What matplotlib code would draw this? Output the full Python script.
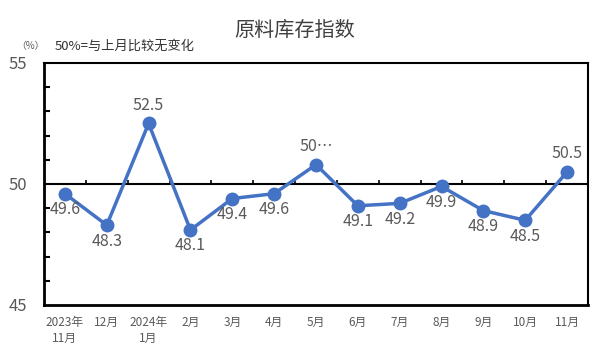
import matplotlib
matplotlib.use("Agg")
import matplotlib.pyplot as plt
import numpy as np

plt.rcParams['font.family'] = ['Noto Sans CJK SC', 'DejaVu Sans']

categories = ["2023年\n11月", "12月", "2024年\n1月", "2月", "3月", "4月", "5月",
              "6月", "7月", "8月", "9月", "10月", "11月"]
values = [49.6, 48.3, 52.5, 48.1, 49.4, 49.6, 50.8, 49.1, 49.2, 49.9, 48.9, 48.5, 50.5]
labels = ["49.6", "48.3", "52.5", "48.1", "49.4", "49.6", "50…", "49.1", "49.2",
          "49.9", "48.9", "48.5", "50.5"]
label_pos = ["below", "below", "above", "below", "below", "below", "above",
             "below", "below", "below", "below", "below", "above"]
yticks = [45, 50, 55]

gray = "#595959"
blue = "#4472C4"

fig = plt.figure(figsize=(5.91, 3.54), dpi=100)
ax = fig.add_axes([44/591, 1-305/354, (588-44)/591, (305-63)/354])

x = np.arange(len(values))
ax.plot(x, values, color=blue, lw=2.5, marker='o', ms=9, zorder=3, clip_on=False)

for xi, v, lab, pos in zip(x, values, labels, label_pos):
    dy = -16 if pos == "below" else 18
    ax.annotate(lab, (xi, v), xytext=(0, dy), textcoords='offset pixels',
                ha='center', va='center', fontsize=11.5, color=gray, zorder=4)

ax.set_xlim(-0.5, len(values) - 0.5)
ax.set_ylim(45, 55)
ax.set_yticks(yticks)
ax.set_yticklabels([str(t) for t in yticks], fontsize=12, color=gray)
ax.yaxis.set_minor_locator(matplotlib.ticker.MultipleLocator(1))
ax.tick_params(axis='y', which='major', length=0, pad=12)
ax.tick_params(axis='y', which='minor', direction='in', length=4, width=1.5, color='black')

ax.set_xticks(x)
ax.set_xticklabels(categories, fontsize=8.5, color=gray, linespacing=1.3, va='top')
ax.tick_params(axis='x', which='major', length=0, pad=8)

for s in ['left', 'bottom']:
    ax.spines[s].set_linewidth(2)
for s in ['top', 'right']:
    ax.spines[s].set_linewidth(1.5)

ax.axhline(50, color='black', lw=1.5, zorder=2)
# small upward ticks on the 50 line at category boundaries
bounds = np.arange(0.5, len(values) - 1, 1.0)
ax.vlines(bounds, 50, 50.15, color='black', lw=1.2, zorder=2)

fig.text(295/591, 1-30/354, "原料库存指数", ha='center', va='center', fontsize=14.5, color='#404040')
fig.text(16/591, 1-46/354, "（%）", ha='left', va='center', fontsize=7, color=gray)
fig.text(55/591, 1-46/354, "50%=与上月比较无变化", ha='left', va='center', fontsize=9.5, color='#333333')

fig.savefig("out.png", dpi=100)
